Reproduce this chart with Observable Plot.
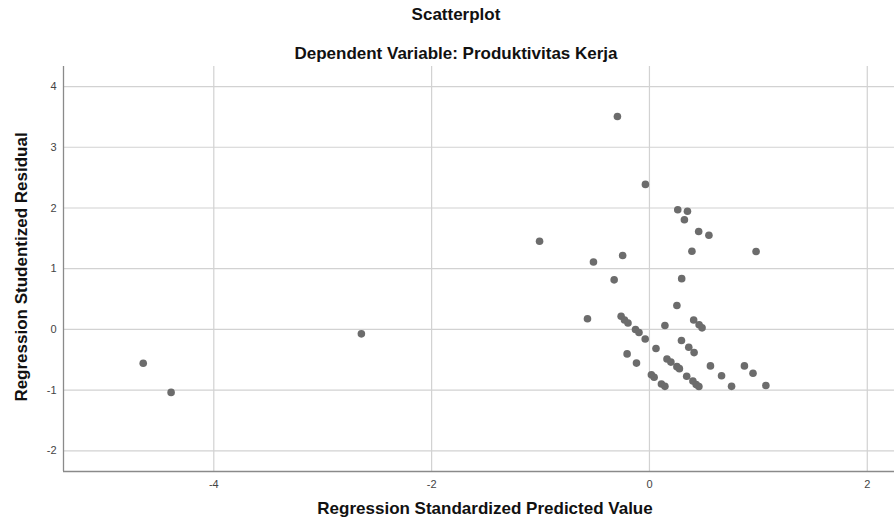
<!DOCTYPE html>
<html>
<head>
<meta charset="utf-8">
<script src="https://cdn.jsdelivr.net/npm/d3@7"></script>
<script src="https://cdn.jsdelivr.net/npm/@observablehq/plot@0.6"></script>
<style>
  html, body { margin: 0; padding: 0; background: #fff; }
  #wrap { position: relative; width: 894px; height: 525px; overflow: hidden; font-family: "Liberation Sans", Arial, sans-serif; }
  .ttl { position: absolute; left: 0; width: 912px; text-align: center; font-weight: bold; font-size: 17px; color: #111; line-height: 20px; }
</style>
</head>
<body>
<div id="wrap">
  <div class="ttl" style="top:5px">Scatterplot</div>
  <div class="ttl" style="top:44px">Dependent Variable: Produktivitas Kerja</div>
</div>
<script>
// Regression Standardized Predicted Value (x) and Regression Studentized Residual (y)
const predicted = [
  -4.648, -4.392, -2.645, -0.294, -0.037, 0.260, 0.349, 0.321, 0.452, 0.546,
  0.390, 0.979, -1.009, -0.514, -0.246, -0.324, 0.296, 0.252, -0.569, -0.260,
  -0.229, -0.197, -0.128, -0.096, -0.039, 0.142, 0.406, 0.456, 0.483, 0.294,
  0.361, 0.410, 0.060, -0.205, -0.119, 0.161, 0.197, 0.252, 0.275, 0.560,
  0.872, 0.951, 0.662, 0.018, 0.043, 0.342, 0.399, 0.429, 0.454, 0.110,
  0.142, 0.754, 1.069
];
const residual = [
  -0.557, -1.037, -0.073, 3.506, 2.388, 1.972, 1.947, 1.807, 1.612, 1.551,
  1.287, 1.282, 1.452, 1.110, 1.217, 0.816, 0.836, 0.395, 0.175, 0.218,
  0.155, 0.106, -0.002, -0.051, -0.159, 0.064, 0.155, 0.076, 0.026, -0.183,
  -0.294, -0.382, -0.315, -0.403, -0.555, -0.486, -0.538, -0.613, -0.646, -0.601,
  -0.601, -0.723, -0.763, -0.748, -0.788, -0.771, -0.849, -0.907, -0.940, -0.898,
  -0.938, -0.938, -0.923
];
const xTicks = [-4, -2, 0, 2];
const yTicks = [-2, -1, 0, 1, 2, 3, 4];
const xDomain = [-5.38, 2.25];
const yDomain = [-2.34, 4.33];

const points = predicted.map((x, i) => ({x, y: residual[i]}));

const chart = Plot.plot({
  width: 894,
  height: 525,
  marginTop: 66,
  marginBottom: 54,
  marginLeft: 63,
  marginRight: 0,
  style: { fontFamily: '"Liberation Sans", Arial, sans-serif', fontSize: "11px", color: "#444", background: "#fff" },
  x: { domain: xDomain, ticks: xTicks, label: null },
  y: { domain: yDomain, ticks: yTicks, label: null },
  marks: [
    Plot.gridX(xTicks, { stroke: "#d2d2d2", strokeOpacity: 1, strokeWidth: 1.2 }),
    Plot.gridY(yTicks, { stroke: "#d2d2d2", strokeOpacity: 1, strokeWidth: 1.2 }),
    Plot.ruleX([xDomain[0]], { stroke: "#8a8a8a", strokeWidth: 1.3 }),
    Plot.ruleY([yDomain[0]], { stroke: "#8a8a8a", strokeWidth: 1.3 }),
    Plot.axisX(xTicks, { tickSize: 0, tickPadding: 9, fontSize: 11, fill: "#444", tickFormat: d => String(d) }),
    Plot.axisY(yTicks, { tickSize: 0, tickPadding: 7, fontSize: 11, fill: "#444", tickFormat: d => String(d) }),
    Plot.text(["Regression Standardized Predicted Value"], { frameAnchor: "bottom", dy: 42, dx: 6, fontWeight: "bold", fontSize: 17, fill: "#111" }),
    Plot.text(["Regression Studentized Residual"], { frameAnchor: "left", textAnchor: "middle", dx: -42, dy: -2, rotate: -90, fontWeight: "bold", fontSize: 17, fill: "#111" }),
    Plot.dot(points, { x: "x", y: "y", r: 3.8, fill: "#6c6c6c", stroke: "none" })
  ]
});
document.getElementById("wrap").prepend(chart);
chart.style.position = "absolute";
chart.style.left = "0";
chart.style.top = "0";
</script>
</body>
</html>
